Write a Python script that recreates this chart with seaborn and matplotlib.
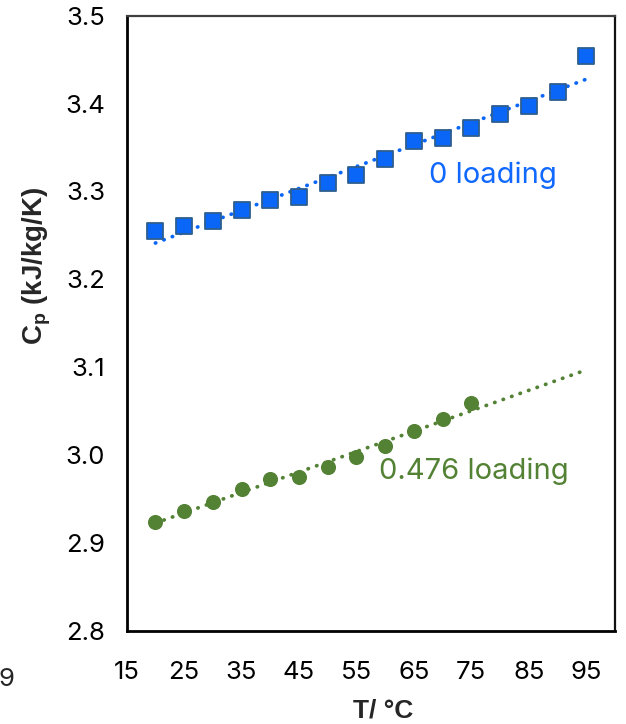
import numpy as np
import pandas as pd
import matplotlib
matplotlib.use("Agg")
import matplotlib.pyplot as plt
from matplotlib.ticker import MultipleLocator, FixedLocator, FormatStrFormatter
import seaborn as sns

# ---- data ----
temp_0 = [20, 25, 30, 35, 40, 45, 50, 55, 60, 65, 70, 75, 80, 85, 90, 95]
cp_0 = [3.255, 3.261, 3.266, 3.279, 3.290, 3.294, 3.310, 3.319, 3.337,
        3.357, 3.361, 3.372, 3.388, 3.397, 3.413, 3.454]
temp_476 = [20, 25, 30, 35, 40, 45, 50, 55, 60, 65, 70, 75]
cp_476 = [2.924, 2.936, 2.947, 2.962, 2.973, 2.975, 2.987, 2.998, 3.011,
          3.027, 3.041, 3.059]
label_0 = "0 loading"
label_476 = "0.476 loading"
x_label = "T/ °C"
y_label = r"C$_{\mathbf{p}}$ (kJ/kg/K)"
trend_range = (20, 95)

df0 = pd.DataFrame({"T": temp_0, "Cp": cp_0})
df1 = pd.DataFrame({"T": temp_476, "Cp": cp_476})

sns.set_style("white")
plt.rcParams["font.family"] = ["Inter", "DejaVu Sans"]
plt.rcParams["mathtext.fontset"] = "custom"
plt.rcParams["mathtext.rm"] = "Liberation Sans"
plt.rcParams["mathtext.bf"] = "Liberation Sans:bold"

BLUE = "#0A66F7"
BLUE_EDGE = "#2D5E8E"
BLUE_TXT = "#1068FF"
GREEN = "#548235"
BOLD_FONT = ["Liberation Sans", "DejaVu Sans"]

fig = plt.figure(figsize=(6.26, 7.24), dpi=100)
ax = fig.add_axes([0.2024, 0.1285, 0.7800, 0.8498])

# trend lines (linear regressions spanning 20..95)
ax.set_xlim(*trend_range)
line_kw = dict(linestyle=(0, (0.1, 2.3)), dash_capstyle="round", lw=2.7)
sns.regplot(data=df0, x="T", y="Cp", scatter=False, ci=None, truncate=False,
            ax=ax, color=BLUE, line_kws=line_kw)
sns.regplot(data=df1, x="T", y="Cp", scatter=False, ci=None, truncate=False,
            ax=ax, color=GREEN, line_kws=line_kw)

sns.scatterplot(data=df0, x="T", y="Cp", marker="s", s=125, color=BLUE,
                edgecolor=BLUE_EDGE, linewidth=1.3, ax=ax, zorder=3)
sns.scatterplot(data=df1, x="T", y="Cp", marker="o", s=118, color=GREEN,
                edgecolor=GREEN, linewidth=0, ax=ax, zorder=3)

ax.set_xlim(15, 100)
ax.set_ylim(2.8, 3.5)
ax.xaxis.set_major_locator(MultipleLocator(10, offset=5))
ax.xaxis.set_minor_locator(FixedLocator(np.arange(15, 101, 2)))
ax.yaxis.set_major_locator(MultipleLocator(0.1))
ax.yaxis.set_minor_locator(MultipleLocator(0.02))
ax.yaxis.set_major_formatter(FormatStrFormatter("%.1f"))

ax.tick_params(which="major", direction="inout", length=14, width=1.5,
               color="black", labelsize=18.5, labelcolor="black")
ax.tick_params(axis="x", which="major", pad=14.5)
ax.tick_params(axis="y", which="major", pad=8.5)
ax.tick_params(which="minor", direction="in", length=5.5, width=1.5,
               color="black")
ax.tick_params(top=False, right=False, which="both")

for side in ["left", "bottom"]:
    ax.spines[side].set_linewidth(2.0)
    ax.spines[side].set_color("black")
ax.spines["right"].set_linewidth(1.6)
ax.spines["right"].set_color("#111111")
ax.spines["top"].set_linewidth(1.6)
ax.spines["top"].set_color("#404040")

ax.set_xlabel("")
ax.set_ylabel("")
fig.text(383 / 626, 1 - 711 / 724, x_label, ha="center", va="center",
         fontsize=19, fontweight="bold", family=BOLD_FONT)
fig.text(37 / 626, 1 - 266 / 724, y_label, ha="center", va="center",
         rotation=90, fontsize=20, fontweight="bold", family=BOLD_FONT)

ax.text(67.6, 3.318, label_0, ha="left", va="center", color=BLUE_TXT,
        fontsize=21)
ax.text(59.0, 2.982, label_476, ha="left", va="center", color=GREEN,
        fontsize=21)

# stray partial label from neighbouring panel
fig.text(-1 / 626, 1 - 680 / 724, "9", ha="left", va="center", fontsize=18.5)

fig.savefig("out.png", dpi=100)
